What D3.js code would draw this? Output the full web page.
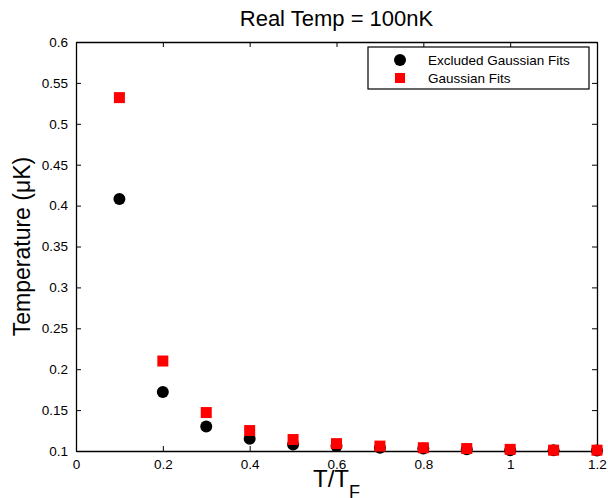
<!DOCTYPE html>
<html>
<head>
<meta charset="utf-8">
<script src="https://cdn.jsdelivr.net/npm/d3@7"></script>
<style>
  body { margin: 0; background: #fff; }
  text { font-family: "Liberation Sans", Arial, sans-serif; }
</style>
</head>
<body>
<script>
const ratios = [0.1, 0.2, 0.3, 0.4, 0.5, 0.6, 0.7, 0.8, 0.9, 1.0, 1.1, 1.2]
const excludedFits = [0.408, 0.172, 0.130, 0.115, 0.108, 0.106, 0.104, 0.103, 0.102, 0.101, 0.101, 0.1005]
const gaussianFits = [0.532, 0.210, 0.147, 0.125, 0.114, 0.109, 0.106, 0.104, 0.103, 0.102, 0.101, 0.101]
const xTicks = [0, 0.2, 0.4, 0.6, 0.8, 1, 1.2]
const yTicks = [0.1, 0.15, 0.2, 0.25, 0.3, 0.35, 0.4, 0.45, 0.5, 0.55, 0.6]

const width = 608
const height = 498
const margin = {top: 42, right: 11, bottom: 47, left: 76}

const svg = d3.select('body').append('svg')
  .attr('width', width)
  .attr('height', height)

const x = d3.scaleLinear().domain([0, 1.2]).range([margin.left, width - margin.right])
const y = d3.scaleLinear().domain([0.1, 0.6]).range([height - margin.bottom, margin.top])

// axes with inward ticks on all four sides
const tickLen = 5
svg.append('g')
  .attr('transform', `translate(0,${y(0.1)})`)
  .call(d3.axisBottom(x).tickValues(xTicks).tickSizeInner(-tickLen).tickSizeOuter(0).tickPadding(8).tickFormat(d3.format('')))
svg.append('g')
  .attr('transform', `translate(0,${y(0.6)})`)
  .call(d3.axisTop(x).tickValues(xTicks).tickSizeInner(-tickLen).tickSizeOuter(0).tickFormat(''))
svg.append('g')
  .attr('transform', `translate(${x(0)},0)`)
  .call(d3.axisLeft(y).tickValues(yTicks).tickSizeInner(-tickLen).tickSizeOuter(0).tickPadding(8).tickFormat(d3.format('')))
svg.append('g')
  .attr('transform', `translate(${x(1.2)},0)`)
  .call(d3.axisRight(y).tickValues(yTicks).tickSizeInner(-tickLen).tickSizeOuter(0).tickFormat(''))

svg.selectAll('.domain').attr('stroke', '#000').attr('stroke-width', 1.3)
svg.selectAll('.tick line').attr('stroke', '#000')
svg.selectAll('.tick text')
  .attr('fill', '#000')
  .style('font-size', '13.5px')
  .style('font-family', '"Liberation Sans", Arial, sans-serif')

// black circles
svg.append('g').selectAll('circle')
  .data(ratios.map((r, i) => [r, excludedFits[i]]))
  .enter().append('circle')
  .attr('cx', d => x(d[0]))
  .attr('cy', d => y(d[1]))
  .attr('r', 6)
  .attr('fill', '#000')

// red squares
const sq = 11
svg.append('g').selectAll('rect')
  .data(ratios.map((r, i) => [r, gaussianFits[i]]))
  .enter().append('rect')
  .attr('x', d => x(d[0]) - sq / 2)
  .attr('y', d => y(d[1]) - sq / 2)
  .attr('width', sq)
  .attr('height', sq)
  .attr('fill', '#f00')

// legend
const legend = svg.append('g').attr('transform', 'translate(368,47)')
legend.append('rect')
  .attr('width', 221).attr('height', 42)
  .attr('fill', '#fff').attr('stroke', '#000').attr('stroke-width', 1.2)
legend.append('circle').attr('cx', 32).attr('cy', 13).attr('r', 6).attr('fill', '#000')
legend.append('rect').attr('x', 27).attr('y', 26).attr('width', 10).attr('height', 10).attr('fill', '#f00')
legend.append('text').attr('x', 60).attr('y', 18).style('font-size', '13.5px').text('Excluded Gaussian Fits')
legend.append('text').attr('x', 60).attr('y', 36).style('font-size', '13.5px').text('Gaussian Fits')

// title and axis labels
svg.append('text')
  .attr('x', (x(0) + x(1.2)) / 2).attr('y', 26)
  .attr('text-anchor', 'middle')
  .style('font-size', '22px')
  .text('Real Temp = 100nK')

const xl = svg.append('text')
  .attr('x', (x(0) + x(1.2)) / 2).attr('y', 487)
  .attr('text-anchor', 'middle')
  .style('font-size', '24px')
xl.append('tspan').text('T/T')
xl.append('tspan').attr('dy', 11).style('font-size', '18px').text('F')

svg.append('text')
  .attr('transform', `translate(30,${(y(0.1) + y(0.6)) / 2}) rotate(-90)`)
  .attr('text-anchor', 'middle')
  .style('font-size', '23px')
  .text('Temperature (μK)')
</script>
</body>
</html>
